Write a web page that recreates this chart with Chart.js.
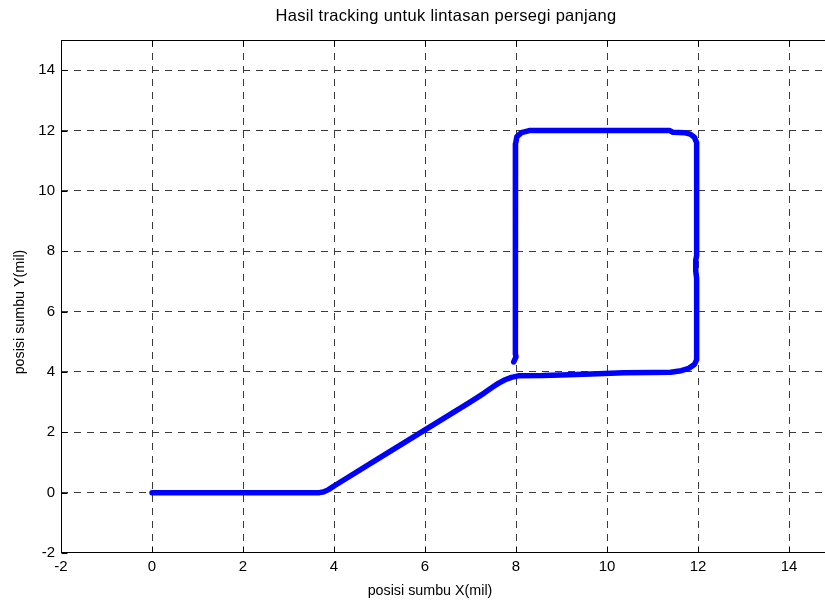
<!DOCTYPE html>
<html>
<head>
<meta charset="utf-8">
<script src="https://cdn.jsdelivr.net/npm/chart.js@4/dist/chart.umd.min.js"></script>
<style>
  html, body { margin: 0; padding: 0; background: #fff; width: 825px; height: 604px; overflow: hidden; }
  #wrap { width: 850px; height: 604px; }
</style>
</head>
<body>
<div id="wrap"><canvas id="c" width="850" height="604"></canvas></div>
<script>
// Tracked path of the vessel (x, y in mil)
const pathX = [0, 0.8, 1.6, 2.4, 3.2, 3.68, 3.78, 3.88, 4.0, 5.0, 6.0, 7.0, 7.3, 7.48, 7.62, 7.76, 7.9, 8.05,
  8.6, 9.16, 9.8, 10.37, 11.0, 11.4, 11.63, 11.8, 11.92, 11.97,
  11.97, 11.97, 11.95, 11.95, 11.97, 11.97, 11.97,
  11.92, 11.83, 11.7, 11.45, 11.38, 10.5, 9.5, 8.6, 8.29, 8.12, 8.02, 7.99,
  7.99, 7.98, 7.99, 8.0, 7.95];
const pathY = [0, 0, 0, 0, 0, 0, 0.03, 0.1, 0.22, 1.15, 2.08, 3.01, 3.3, 3.49, 3.63, 3.74, 3.82, 3.87,
  3.88, 3.91, 3.94, 3.97, 3.98, 3.99, 4.04, 4.12, 4.25, 4.4,
  5.5, 7.1, 7.35, 7.7, 7.85, 9.5, 11.6,
  11.78, 11.88, 11.93, 11.94, 12.0, 12.0, 12.0, 12.0, 12.0, 11.93, 11.8, 11.55,
  10.0, 7.0, 4.6, 4.5, 4.33];

const xTicks = [-2, 0, 2, 4, 6, 8, 10, 12, 14];
const yTicks = [-2, 0, 2, 4, 6, 8, 10, 12, 14];
const xRange = [-2, 15];
const yRange = [-2, 15];

const chartTitle = 'Hasil tracking untuk lintasan persegi panjang';
const xLabel = 'posisi sumbu X(mil)';
const yLabel = 'posisi sumbu Y(mil)';

const FONT = '"Liberation Sans", Arial, Helvetica, sans-serif';
const GRID = '#3a3a3a';

// Solid axes box with short inward tick marks on every side
const axesBox = {
  id: 'axesBox',
  beforeDatasetsDraw(chart) {
    const { ctx, chartArea: a, scales } = chart;
    ctx.save();
    ctx.strokeStyle = '#000';
    ctx.lineWidth = 1;
    ctx.setLineDash([]);
    const L = Math.round(a.left) + 0.5, R = Math.round(a.right) + 0.5;
    const T = Math.round(a.top) + 0.5, B = Math.round(a.bottom) - 0.5;
    ctx.strokeRect(L, T, R - L, B - T);
    const len = 6;
    ctx.beginPath();
    xTicks.forEach(v => {
      const px = Math.round(scales.x.getPixelForValue(v)) + 0.5;
      ctx.moveTo(px, B); ctx.lineTo(px, B - len);
      ctx.moveTo(px, T); ctx.lineTo(px, T + len);
    });
    yTicks.forEach(v => {
      const py = Math.round(scales.y.getPixelForValue(v)) + 0.5;
      ctx.moveTo(L, py); ctx.lineTo(L + len, py);
      ctx.moveTo(R, py); ctx.lineTo(R - len, py);
    });
    ctx.stroke();
    ctx.restore();
  }
};

// Title and axis labels
const labels = {
  id: 'labels',
  afterDraw(chart) {
    const { ctx } = chart;
    ctx.save();
    ctx.fillStyle = '#000';
    ctx.textAlign = 'center';
    ctx.textBaseline = 'middle';
    ctx.font = '16.5px ' + FONT;
    ctx.letterSpacing = '0.3px';
    ctx.fillText(chartTitle, 446, 16);
    ctx.letterSpacing = '0px';
    ctx.font = '14.3px ' + FONT;
    ctx.fillText(xLabel, 430, 591);
    ctx.translate(20, 312);
    ctx.rotate(-Math.PI / 2);
    ctx.fillText(yLabel, 0, 0);
    ctx.restore();
  }
};

const gridStyle = (range) => ({
  color: c => (c.tick && c.tick.value === range[0]) ? 'rgba(0,0,0,0)' : GRID,
  lineWidth: 1,
  drawTicks: false
});

new Chart(document.getElementById('c'), {
  type: 'scatter',
  data: {
    datasets: [{
      data: pathX.map((x, i) => ({ x, y: pathY[i] })),
      showLine: true,
      borderColor: '#0000ff',
      borderWidth: 5.5,
      borderCapStyle: 'round',
      borderJoinStyle: 'round',
      pointRadius: 0,
      tension: 0,
      fill: false
    }]
  },
  options: {
    responsive: false,
    animation: false,
    events: [],
    layout: { padding: { left: 0, top: 40, right: 15.5, bottom: 0 } },
    plugins: {
      legend: { display: false },
      tooltip: { enabled: false },
      title: { display: false }
    },
    scales: {
      x: {
        type: 'linear',
        position: 'bottom',
        min: xRange[0],
        max: xRange[1],
        afterBuildTicks: s => { s.ticks = xTicks.map(v => ({ value: v })); },
        afterFit: s => { s.height = 51; },
        grid: gridStyle(xRange),
        border: { display: false, dash: [7, 6] },
        ticks: {
          color: '#000',
          padding: 5,
          maxRotation: 0,
          font: { family: FONT, size: 15 },
          callback: v => String(v)
        }
      },
      y: {
        type: 'linear',
        position: 'left',
        min: yRange[0],
        max: yRange[1],
        afterBuildTicks: s => { s.ticks = yTicks.map(v => ({ value: v })); },
        afterFit: s => { s.width = 61; },
        grid: gridStyle(yRange),
        border: { display: false, dash: [7, 6] },
        ticks: {
          color: '#000',
          padding: 6,
          font: { family: FONT, size: 15 },
          callback: v => String(v)
        }
      }
    }
  },
  plugins: [axesBox, labels]
});
</script>
</body>
</html>
